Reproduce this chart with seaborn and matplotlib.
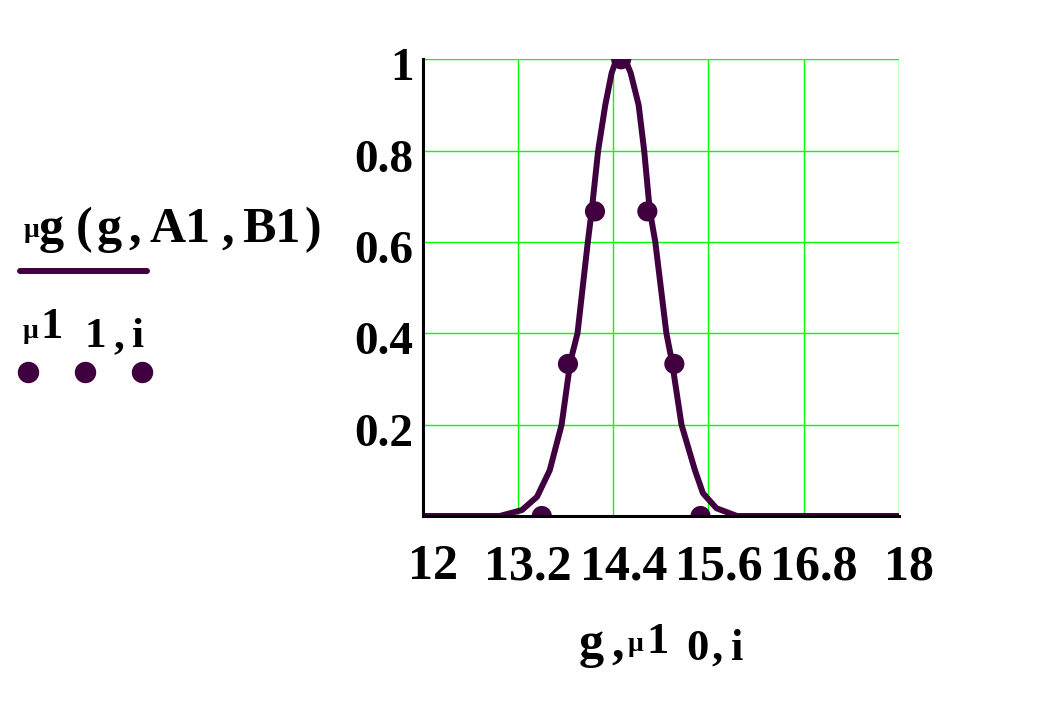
import matplotlib
matplotlib.use('Agg')
import matplotlib.pyplot as plt
from matplotlib.lines import Line2D
from matplotlib.transforms import ScaledTranslation
import pandas as pd
import seaborn as sns

# curve mu_g(g, A1, B1)
curve_g = [12.0, 12.97, 13.25, 13.44, 13.60, 13.75, 13.86, 13.95, 14.08, 14.13, 14.21, 14.30,
           14.38, 14.44, 14.55, 14.62, 14.72, 14.79, 14.86, 14.93, 15.07, 15.14, 15.26, 15.43,
           15.53, 15.70, 15.96, 18.0]
curve_mu = [0, 0, 0.013, 0.042, 0.10, 0.20, 0.338, 0.40, 0.60, 0.67, 0.80, 0.90,
            0.97, 1.0, 1.0, 0.97, 0.90, 0.80, 0.67, 0.60, 0.40, 0.338, 0.20, 0.10,
            0.05, 0.017, 0, 0]

# points mu1[0,i], mu1[1,i]
pts_g = [13.5, 13.83, 14.17, 14.5, 14.83, 15.17, 15.5]
pts_mu = [0, 0.333, 0.667, 1.0, 0.667, 0.333, 0]

x_ticks = [12, 13.2, 14.4, 15.6, 16.8, 18]
x_labels = ['12', '13.2', '14.4', '15.6', '16.8', '18']
y_ticks = [0, 0.2, 0.4, 0.6, 0.8, 1.0]
y_labels = ['', '0.2', '0.4', '0.6', '0.8', '1']

PURPLE = '#400040'
GREEN = '#00ff00'
W, H = 1037, 706

sns.set_style("white")
plt.rcParams['font.family'] = ['Liberation Serif', 'DejaVu Serif']
plt.rcParams['font.weight'] = 'bold'
plt.rcParams['text.color'] = 'black'
plt.rcParams['xtick.color'] = 'black'
plt.rcParams['ytick.color'] = 'black'

fig = plt.figure(figsize=(W / 100, H / 100), dpi=100)
ax = fig.add_axes([422.7 / W, 1 - 516 / H, (899 - 422.7) / W, (516 - 59.3) / H])

curve = pd.DataFrame({'g': curve_g, 'mu': curve_mu})
pts = pd.DataFrame({'g': pts_g, 'mu': pts_mu})

sns.lineplot(data=curve, x='g', y='mu', ax=ax, color=PURPLE, lw=4.3,
             sort=False, estimator=None, zorder=3)
sns.scatterplot(data=pts, x='g', y='mu', ax=ax, color=PURPLE, s=210,
                edgecolor='none', zorder=4)

ax.set_xlim(12, 18)
ax.set_ylim(0, 1)
ax.set_xticks(x_ticks)
ax.set_xticklabels(x_labels)
ax.set_yticks(y_ticks)
ax.set_yticklabels(y_labels)
ax.set_xlabel('')
ax.set_ylabel('')

ax.grid(True, color=GREEN, lw=1.0)
ax.set_axisbelow(True)
for side in ['top', 'right']:
    ax.spines[side].set_visible(False)
for side in ['left', 'bottom']:
    ax.spines[side].set_color('black')
    ax.spines[side].set_linewidth(2.2)
    ax.spines[side].set_zorder(5)

ax.tick_params(axis='both', direction='inout', length=15, width=2.2, color='black',
               labelcolor='black')
ax.tick_params(axis='x', labelsize=36, pad=13)
ax.tick_params(axis='y', labelsize=34, pad=-1)

# Mathcad puts its labels a little off the ticks
dx = ScaledTranslation(0.10, 0, fig.dpi_scale_trans)
dy = ScaledTranslation(0, -0.05, fig.dpi_scale_trans)
for lab in ax.get_xticklabels():
    lab.set_fontweight('bold')
    lab.set_transform(lab.get_transform() + dx)
for lab in ax.get_yticklabels():
    lab.set_fontweight('bold')
    lab.set_transform(lab.get_transform() + dy)


def ftext(x, y, s, size):
    fig.text(x / W, 1 - y / H, s, fontsize=size, fontweight='bold',
             va='baseline', ha='left', color='black')


# legend block on the left
ftext(24, 237, 'μ', 20)
ftext(39, 242, 'g', 36)
ftext(76, 242, '(', 36)
ftext(97, 242, 'g', 36)
ftext(128, 242, ',', 36)
ftext(149, 242, 'A1', 36)
ftext(221, 242, ',', 36)
ftext(242, 242, 'B1', 36)
ftext(304, 242, ')', 36)
fig.add_artist(Line2D([20 / W, 147 / W], [1 - 271 / H, 1 - 271 / H],
                      transform=fig.transFigure, color=PURPLE, lw=4.3,
                      solid_capstyle='round'))
ftext(23, 338, 'μ', 20)
ftext(40, 338, '1', 32)
ftext(84, 347, '1', 31)
ftext(113, 347, ',', 31)
ftext(132, 347, 'i', 31)
fig.add_artist(Line2D([28 / W, 85 / W, 142 / W], [1 - 372 / H] * 3,
                      transform=fig.transFigure, color=PURPLE, lw=0,
                      marker='o', markersize=14.4))

# x axis title
ftext(579, 657, 'g', 36)
ftext(611, 657, ',', 36)
ftext(628, 651, 'μ', 20)
ftext(646, 653, '1', 32)
ftext(686, 660, '0', 32)
ftext(711, 660, ',', 32)
ftext(731, 660, 'i', 32)

fig.savefig('out.png', dpi=100, facecolor='white')
